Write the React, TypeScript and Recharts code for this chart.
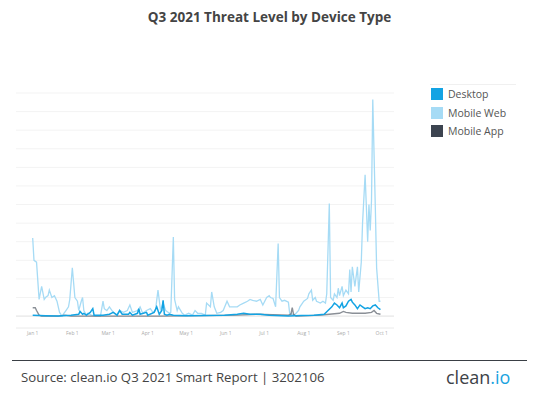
import React from 'react';
import { LineChart, Line, XAxis, YAxis, CartesianGrid, ReferenceLine } from 'recharts';

// day index (0 = Jan 1) and threat level
const mobileWebDays = [0, 1, 3, 5, 7, 9, 10, 12, 13, 15, 17, 19, 21, 23, 24, 26, 28, 29, 31, 33, 35, 36, 38, 39, 40, 42, 43, 46, 49, 53, 55, 56, 58, 60, 63, 66, 68, 71, 74, 76, 78, 82, 84, 86, 89, 92, 94, 96, 98, 100, 102, 104, 107, 108, 110, 111, 113, 114, 117, 119, 122, 125, 127, 129, 132, 135, 136, 139, 140, 142, 144, 147, 149, 152, 154, 157, 160, 162, 165, 168, 170, 172, 175, 178, 180, 183, 185, 186, 188, 190, 192, 193, 195, 197, 200, 201, 204, 206, 208, 209, 211, 212, 215, 216, 218, 219, 221, 222, 225, 227, 229, 230, 232, 233, 235, 236, 238, 239, 240, 242, 243, 245, 247, 248, 249, 250, 252, 254, 255, 257, 258, 260, 261, 262, 263, 264, 265, 266, 268, 269, 271, 272];
const mobileWebValues = [4.2, 3.0, 2.9, 0.9, 1.6, 0.9, 1.0, 1.1, 1.4, 1.0, 1.1, 0.8, 0.2, 0.0, 0.1, 0.3, 0.5, 0.9, 2.6, 1.0, 0.8, 0.3, 0.8, 1.0, 0.3, 0.05, 0.15, 0.05, 0.0, 0.0, 0.8, 0.4, 0.3, 0.5, 0.2, 0.05, 0.3, 0.2, 0.3, 0.6, 0.2, 0.3, 0.5, 0.15, 0.3, 0.4, 0.2, 0.3, 1.4, 0.3, 0.7, 0.3, 0.15, 0.2, 4.25, 0.9, 0.3, 0.5, 0.15, 0.05, 0.15, 0.05, 0.3, 0.15, 0.15, 0.05, 0.7, 0.5, 1.3, 0.5, 0.15, 0.2, 0.3, 0.8, 0.5, 0.5, 0.5, 0.6, 0.7, 0.8, 0.9, 0.85, 0.8, 0.9, 0.6, 1.0, 1.1, 1.0, 0.95, 0.5, 3.9, 1.0, 0.8, 0.85, 0.75, 0.15, 0.05, 0.15, 0.3, 0.5, 0.7, 0.8, 0.95, 1.2, 1.4, 0.85, 1.0, 0.8, 0.7, 0.8, 0.7, 1.2, 6.05, 1.0, 0.85, 1.2, 1.0, 1.5, 1.1, 1.6, 1.1, 1.4, 1.2, 2.5, 1.3, 2.65, 1.6, 2.65, 1.3, 2.9, 5.0, 7.6, 5.85, 4.0, 6.0, 4.6, 6.2, 11.65, 5.8, 2.6, 0.8, 0.8];

const desktopDays = [0, 10, 20, 30, 36, 37, 39, 40, 42, 45, 47, 48, 55, 60, 63, 66, 68, 70, 75, 76, 78, 82, 83, 84, 89, 90, 95, 97, 99, 101, 102, 103, 105, 107, 110, 120, 150, 160, 165, 170, 178, 185, 200, 210, 220, 228, 231, 234, 236, 238, 240, 242, 243, 245, 247, 249, 250, 252, 254, 256, 258, 260, 262, 264, 266, 268, 270, 272];
const desktopValues = [0.05, 0.02, 0.0, 0.05, 0.1, 0.25, 0.1, 0.15, 0.05, 0.2, 0.4, 0.05, 0.05, 0.1, 0.2, 0.05, 0.3, 0.1, 0.1, 0.2, 0.05, 0.15, 0.4, 0.1, 0.2, 0.05, 0.2, 0.5, 0.1, 0.3, 0.85, 0.1, 0.05, 0.1, 0.05, 0.02, 0.05, 0.1, 0.15, 0.1, 0.1, 0.05, 0.0, 0.03, 0.05, 0.1, 0.3, 0.5, 0.7, 0.6, 0.45, 0.7, 0.45, 0.55, 0.8, 0.9, 0.75, 0.6, 0.4, 0.6, 0.5, 0.4, 0.45, 0.4, 0.55, 0.6, 0.45, 0.35];

const mobileAppDays = [0, 2, 3, 5, 7, 20, 25, 30, 100, 160, 175, 200, 202, 203, 204, 206, 225, 232, 240, 243, 245, 250, 260, 265, 267, 269, 272];
const mobileAppValues = [0.45, 0.45, 0.3, 0.05, 0.0, 0.0, 0.05, 0.0, 0.0, 0.05, 0.1, 0.05, 0.1, 0.45, 0.1, 0.0, 0.05, 0.1, 0.15, 0.25, 0.2, 0.15, 0.15, 0.2, 0.3, 0.15, 0.1];

const monthTicks = [0, 31, 59, 90, 120, 151, 181, 212, 243, 273];
const monthLabels = ['Jan 1', 'Feb 1', 'Mar 1', 'Apr 1', 'May 1', 'Jun 1', 'Jul 1', 'Aug 1', 'Sep 1', 'Oct 1'];
const levelTicks = [0, 1, 2, 3, 4, 5, 6, 7, 8, 9, 10, 11, 12];

const seriesNames = ['Desktop', 'Mobile Web', 'Mobile App'];
const seriesColors = ['#13a3e3', '#a6dbf5', '#3c4450'];

const toPoints = (days: number[], values: number[]) =>
  days.map((d, i) => ({ day: d, value: values[i] }));

const mobileWeb = toPoints(mobileWebDays, mobileWebValues);
const desktop = toPoints(desktopDays, desktopValues);
const mobileApp = toPoints(mobileAppDays, mobileAppValues);

const font = '"Open Sans", "DejaVu Sans", sans-serif';

const App: React.FC = () => {
  return (
    <div style={{ position: 'absolute', left: 0, top: 0, width: 539, height: 394, background: '#fff', fontFamily: font }}>
      <div style={{ position: 'absolute', top: 8, left: 0, width: 539, textAlign: 'center', fontSize: 13.5, fontWeight: 700, color: '#444' }}>
        Q3 2021 Threat Level by Device Type
      </div>

      <div style={{ position: 'absolute', left: 0, top: 0 }}>
        <LineChart width={400} height={345} margin={{ top: 93, right: 6, left: 16, bottom: 0 }}>
          <CartesianGrid horizontal vertical={false} stroke="#f3f3f3" />
          <XAxis
            type="number"
            dataKey="day"
            domain={[-13.06, 282.6]}
            ticks={monthTicks}
            interval={0}
            tickFormatter={(v: number) => monthLabels[monthTicks.indexOf(v)]}
            axisLine={false}
            tickLine={false}
            tickSize={0}
            tickMargin={3}
            height={17}
            tick={{ fill: '#aaa', fontSize: 5 }}
            allowDuplicatedCategory={false}
          />
          <YAxis type="number" domain={[-0.64, 12]} ticks={levelTicks} interval={0} hide width={0} allowDataOverflow />
          <ReferenceLine y={0} stroke="#e6e6e6" />
          <ReferenceLine y={-0.64} stroke="#f0f0f0" />
          <Line data={mobileWeb} dataKey="value" stroke={seriesColors[1]} strokeWidth={1.3} dot={false} isAnimationActive={false} />
          <Line data={mobileApp} dataKey="value" stroke={seriesColors[2]} strokeOpacity={0.6} strokeWidth={1.4} dot={false} isAnimationActive={false} />
          <Line data={desktop} dataKey="value" stroke={seriesColors[0]} strokeWidth={1.5} dot={false} isAnimationActive={false} />
        </LineChart>
      </div>

      <div style={{ position: 'absolute', left: 430, top: 84, width: 86, borderTop: '1px solid #f0f0f0' }} />
      {seriesNames.map((name, i) => (
        <div key={name} style={{ position: 'absolute', left: 431, top: 88 + i * 18.7, height: 12, display: 'flex', alignItems: 'center' }}>
          <div style={{ width: 12, height: 12, background: seriesColors[i] }} />
          <span style={{ marginLeft: 5, fontSize: 10.5, color: '#555' }}>{name}</span>
        </div>
      ))}

      <div style={{ position: 'absolute', left: 12, top: 360, width: 515, borderTop: '1px solid #3a3f45' }} />
      <div style={{ position: 'absolute', left: 21, top: 368, fontSize: 13.2, color: '#444' }}>
        Source: clean.io Q3 2021 Smart Report | 3202106
      </div>
      <div style={{ position: 'absolute', left: 446, top: 365, fontSize: 18, color: '#3d4248' }}>
        clean<span style={{ color: '#1aa3e0' }}>.io</span>
      </div>
    </div>
  );
};

export default App;
